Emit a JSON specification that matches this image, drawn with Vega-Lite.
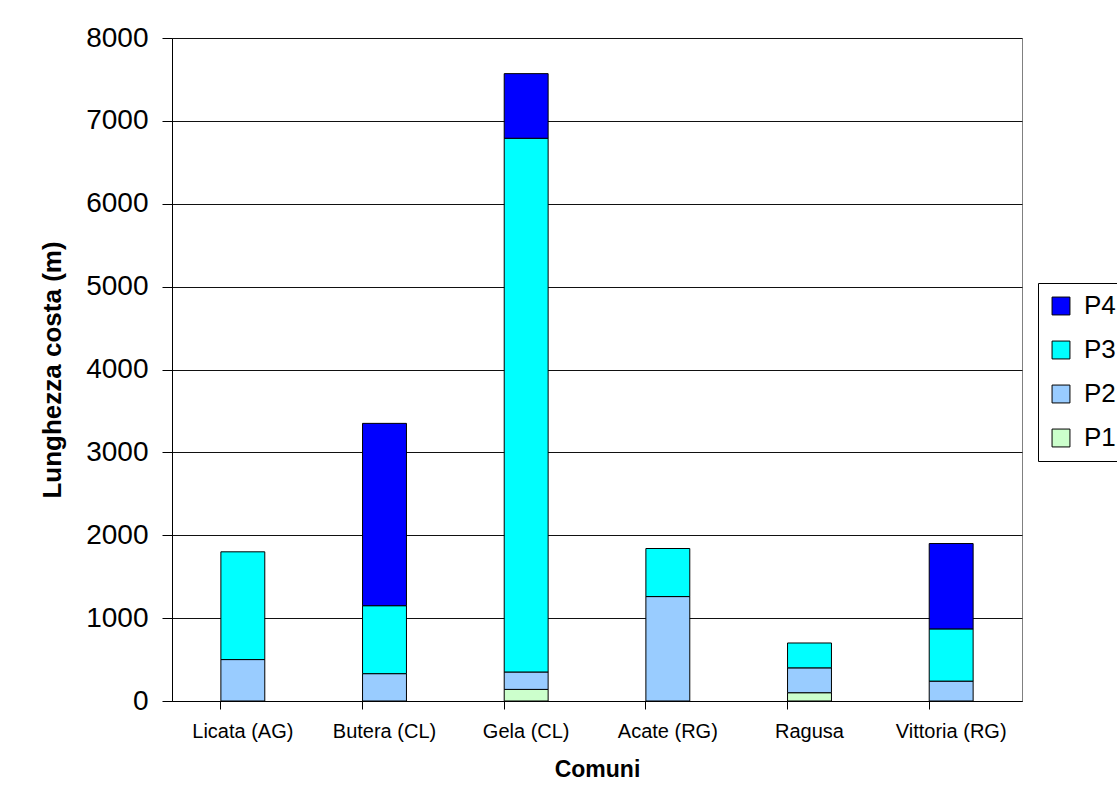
{
  "$schema": "https://vega.github.io/schema/vega-lite/v6.json",
  "width": 850,
  "height": 663,
  "autosize": {"type": "none"},
  "padding": {"left": 172, "top": 38, "right": 95, "bottom": 102},
  "background": "white",
  "config": {
    "font": "Liberation Sans",
    "view": {"stroke": "#808080", "strokeWidth": 1}
  },
  "data": {
    "values": [
      {"comune": "Licata (AG)", "fascia": "P2", "ord": 2, "lunghezza": 500},
      {"comune": "Licata (AG)", "fascia": "P3", "ord": 3, "lunghezza": 1300},
      {"comune": "Butera (CL)", "fascia": "P2", "ord": 2, "lunghezza": 330},
      {"comune": "Butera (CL)", "fascia": "P3", "ord": 3, "lunghezza": 820},
      {"comune": "Butera (CL)", "fascia": "P4", "ord": 4, "lunghezza": 2200},
      {"comune": "Gela (CL)", "fascia": "P1", "ord": 1, "lunghezza": 140},
      {"comune": "Gela (CL)", "fascia": "P2", "ord": 2, "lunghezza": 210},
      {"comune": "Gela (CL)", "fascia": "P3", "ord": 3, "lunghezza": 6440},
      {"comune": "Gela (CL)", "fascia": "P4", "ord": 4, "lunghezza": 780},
      {"comune": "Acate (RG)", "fascia": "P2", "ord": 2, "lunghezza": 1260},
      {"comune": "Acate (RG)", "fascia": "P3", "ord": 3, "lunghezza": 580},
      {"comune": "Ragusa", "fascia": "P1", "ord": 1, "lunghezza": 100},
      {"comune": "Ragusa", "fascia": "P2", "ord": 2, "lunghezza": 300},
      {"comune": "Ragusa", "fascia": "P3", "ord": 3, "lunghezza": 300},
      {"comune": "Vittoria (RG)", "fascia": "P2", "ord": 2, "lunghezza": 240},
      {"comune": "Vittoria (RG)", "fascia": "P3", "ord": 3, "lunghezza": 630},
      {"comune": "Vittoria (RG)", "fascia": "P4", "ord": 4, "lunghezza": 1030}
    ]
  },
  "mark": {"type": "bar", "stroke": "black", "strokeWidth": 1},
  "encoding": {
    "x": {
      "field": "comune",
      "type": "nominal",
      "sort": ["Licata (AG)", "Butera (CL)", "Gela (CL)", "Acate (RG)", "Ragusa", "Vittoria (RG)"],
      "scale": {"paddingInner": 0.69, "paddingOuter": 0.345},
      "axis": {
        "title": "Comuni",
        "titleFontSize": 23,
        "titleFontWeight": "bold",
        "titleColor": "black",
        "titlePadding": 17,
        "labelAngle": 0,
        "labelFontSize": 20,
        "labelColor": "black",
        "labelPadding": 12,
        "tickSize": 8,
        "tickColor": "black",
        "bandPosition": 0,
        "domainColor": "black",
        "grid": false
      }
    },
    "y": {
      "field": "lunghezza",
      "type": "quantitative",
      "stack": "zero",
      "scale": {"domain": [0, 8000], "nice": false},
      "axis": {
        "title": "Lunghezza costa (m)",
        "titleFontSize": 26,
        "titleFontWeight": "bold",
        "titleColor": "black",
        "titlePadding": 20,
        "values": [0, 1000, 2000, 3000, 4000, 5000, 6000, 7000, 8000],
        "format": "d",
        "labelFontSize": 28,
        "labelColor": "black",
        "labelPadding": 14,
        "tickSize": 10,
        "tickColor": "black",
        "domainColor": "black",
        "grid": true,
        "gridColor": "#111111",
        "gridOpacity": 1,
        "gridWidth": 1
      }
    },
    "color": {
      "field": "fascia",
      "type": "nominal",
      "scale": {
        "domain": ["P4", "P3", "P2", "P1"],
        "range": ["#0000FF", "#00FFFF", "#99CCFF", "#CCFFCC"]
      },
      "legend": {
        "title": null,
        "orient": "none",
        "legendX": 866,
        "legendY": 245,
        "strokeColor": "black",
        "padding": 10,
        "symbolType": "square",
        "symbolSize": 320,
        "symbolStrokeColor": "black",
        "symbolStrokeWidth": 1,
        "symbolOpacity": 1,
        "labelFontSize": 26,
        "labelColor": "black",
        "labelOffset": 10,
        "rowPadding": 18
      }
    },
    "order": {"field": "ord", "sort": "ascending"}
  }
}
